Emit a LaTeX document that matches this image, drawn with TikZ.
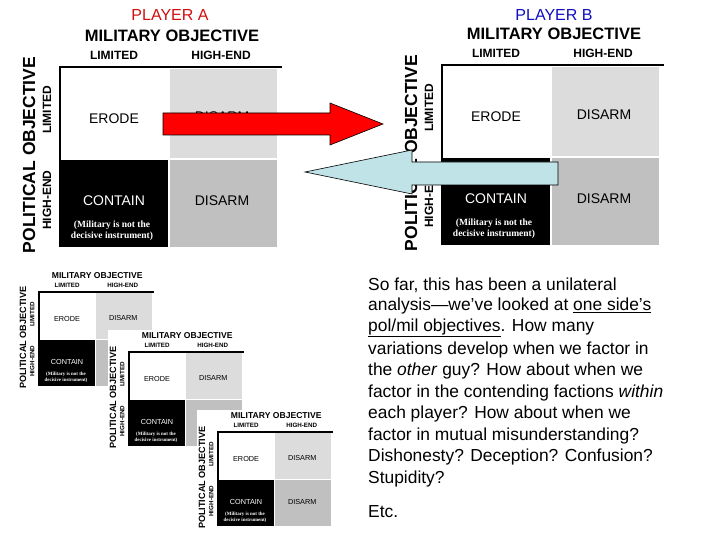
\documentclass[tikz,border=0pt]{standalone}
\usepackage{fontspec}
\setmainfont{Liberation Sans}
\newfontfamily\serifx{Liberation Serif}
\definecolor{lg}{HTML}{DCDCDC}
\definecolor{mg}{HTML}{C0C0C0}
\definecolor{ab}{HTML}{BFE3E6}
\definecolor{pr}{HTML}{D01010}
\definecolor{pb}{HTML}{1010C0}
\newcommand\myul[1]{\underline{#1}}
\tikzset{
 hdr/.style={font=\fontsize{16.5}{16}\selectfont\bfseries},
 sub/.style={font=\fontsize{12}{12}\selectfont\bfseries},
 cell/.style={font=\fontsize{14}{14}\selectfont},
 note/.style={font=\serifx\bfseries\fontsize{9.5}{11}\selectfont, align=center, text=white},
 txt/.style={anchor=west, inner sep=0pt, font=\fontsize{17.4}{17}\selectfont},
 bigarrow/.style={draw=black, line width=0.6pt},
}
\newcommand\mymat[4]{%
\begin{scope}[shift={(#1,#2)}, scale=#3, transform shape]
 \ifx#41\fill[white] (-40,-42) rectangle (225,185);\fi
 \fill[lg] (110,2) rectangle (217,91);
 \fill[mg] (110,93) rectangle (217,180);
 \fill[black] (0,93) rectangle (108,180);
 \draw[line width=2pt] (-1,0) -- (222,0);
 \draw[line width=2pt] (0,0) -- (0,180);
 \node[hdr] (mo) at (112,-31) {MILITARY OBJECTIVE};
 \node[sub] (l1) at (54,-12) {LIMITED};
 \node[sub] (h1) at (161,-12) {HIGH-END};
 \node[hdr, font=\fontsize{17.5}{17}\selectfont\bfseries, rotate=90] (po) at (-31,88) {POLITICAL OBJECTIVE};
 \node[sub, rotate=90] (l2) at (-13,43) {LIMITED};
 \node[sub, rotate=90] (h2) at (-13,133) {HIGH-END};
 \node[cell] (er) at (54,52) {ERODE};
 \node[cell] (d1) at (162,50) {DISARM};
 \node[cell, text=white] (co) at (54,134) {CONTAIN};
 \node[note] (nt) at (52,164) {(Military is not the\\decisive instrument)};
 \node[cell] (d2) at (162,134) {DISARM};
\end{scope}}
\begin{document}
\begin{tikzpicture}[x=1pt,y=-1pt]
\useasboundingbox[fill=white] (0,0) rectangle (720,540);
\mymat{60}{67}{1}{0}
\mymat{442}{65}{1}{0}
\node[font=\fontsize{16}{16}\selectfont, text=pr] (pa) at (170,15) {PLAYER A};
\node[font=\fontsize{16}{16}\selectfont, text=pb] (pb) at (554,15) {PLAYER B};
% arrows
\draw[bigarrow, fill=red] (163,113) -- (330,113) -- (330,103) -- (383,124) -- (330,145) -- (330,135) -- (163,135) -- cycle;
\draw[bigarrow, fill=ab] (558,162) -- (412,162) -- (412,150) -- (305,172) -- (412,194) -- (412,185) -- (558,185) -- cycle;
% small
\mymat{39}{292}{0.52}{1}
\mymat{129}{352}{0.52}{1}
\mymat{218}{432}{0.52}{1}
% text
\node[txt] (t1) at (368,285) {So far, this has been a unilateral};
\node[txt] (t2) at (368,306.5) {analysis—we’ve looked at \myul{one side’s}};
\node[txt] (t3) at (368,328) {\myul{pol/mil objectives}. How many};
\node[txt] (t4) at (368,349.5) {variations develop when we factor in};
\node[txt] (t5) at (368,371) {the \textit{other} guy? How about when we};
\node[txt] (t6) at (368,392.5) {factor in the contending factions \textit{within}};
\node[txt] (t7) at (368,414) {each player? How about when we};
\node[txt] (t8) at (368,435.5) {factor in mutual misunderstanding?};
\node[txt] (t9) at (368,457) {Dishonesty? Deception? Confusion?};
\node[txt] (t10) at (368,478.5) {Stupidity?};
\node[txt] (t11) at (368,512) {Etc.};
\end{tikzpicture}
\end{document}
